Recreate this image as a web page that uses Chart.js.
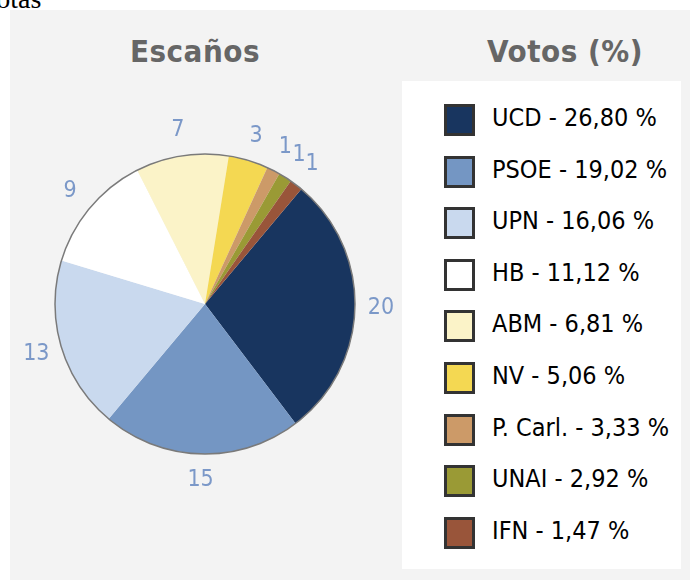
<!DOCTYPE html>
<html>
<head>
<meta charset="utf-8">
<script src="https://cdn.jsdelivr.net/npm/chart.js@4"></script>
<style>
    body { margin: 0; background: #fff; width: 690px; height: 580px; overflow: hidden; position: relative; }
    #notas { position: absolute; left: -24px; top: -17px; font: 28px "Liberation Serif", serif; color: #000; }
    #panel { position: absolute; left: 10px; top: 10px; width: 680px; height: 570px; background: #f3f3f3; }
    .titulo { position: absolute; top: 23px; font: bold 31px "DejaVu Sans Condensed", sans-serif; color: #666; letter-spacing: 0.5px; text-align: center; }
    #caja { position: absolute; left: 392px; top: 71px; width: 279px; height: 488px; background: #fff; }
    .fila { position: absolute; left: 42px; height: 32px; }
    .cuadro { position: absolute; left: 0; top: 0; width: 25px; height: 26px; border: 3px solid #333; }
    .texto { position: absolute; left: 48px; top: -1px; white-space: nowrap; font: 25px "DejaVu Sans Condensed", sans-serif; color: #000; letter-spacing: 0; }
    #pie { position: absolute; left: 0; top: 84px; }
</style>
</head>
<body>
<div id="notas">Notas</div>
<div id="panel">
    <div class="titulo" style="left:85px;width:200px;">Escaños</div>
    <div class="titulo" style="left:455px;width:200px;">Votos (%)</div>
    <canvas id="pie" width="390" height="420"></canvas>
    <div id="caja"></div>
</div>
<script>
// datos del gráfico
var partidos = ['UCD', 'PSOE', 'UPN', 'HB', 'ABM', 'NV', 'P. Carl.', 'UNAI', 'IFN'];
var escanos = [20, 15, 13, 9, 7, 3, 1, 1, 1];
var votos = [26.80, 19.02, 16.06, 11.12, 6.81, 5.06, 3.33, 2.92, 1.47];
var colores = ['#18355f', '#7496c3', '#c9d9ee', '#ffffff', '#fbf3c8', '#f4d852', '#cc9a68', '#9a9a35', '#99553a'];

// leyenda con los votos
var caja = document.getElementById('caja');
for (var i = 0; i < partidos.length; i++) {
    var fila = document.createElement('div');
    fila.className = 'fila';
    fila.style.top = (23 + i * 51.6) + 'px';
    fila.innerHTML = '<div class="cuadro" style="background:' + colores[i] + '"></div>' +
        '<div class="texto">' + partidos[i] + ' - ' + votos[i].toFixed(2).replace('.', ',') + ' %</div>';
    caja.appendChild(fila);
}

// etiquetas de escaños fuera de la tarta + borde exterior
var etiquetas = {
    id: 'etiquetas',
    afterDatasetsDraw: function (chart) {
        var ctx = chart.ctx;
        var meta = chart.getDatasetMeta(0);
        var arc0 = meta.data[0];
        ctx.save();
        ctx.beginPath();
        ctx.arc(arc0.x, arc0.y, arc0.outerRadius, 0, Math.PI * 2);
        ctx.strokeStyle = '#7a7a7a';
        ctx.lineWidth = 1.5;
        ctx.stroke();
        ctx.font = '23px "DejaVu Sans Condensed", sans-serif';
        ctx.fillStyle = '#7b98c8';
        ctx.textAlign = 'center';
        ctx.textBaseline = 'middle';
        meta.data.forEach(function (arc, i) {
            var a = (arc.startAngle + arc.endAngle) / 2;
            var r = arc.outerRadius + 26;
            ctx.fillText(String(escanos[i]), arc.x + Math.cos(a) * r, arc.y + Math.sin(a) * r);
        });
        ctx.restore();
    }
};

var ctx = document.getElementById('pie').getContext('2d');
var pieChart = new Chart(ctx, {
    type: 'pie',
    data: {
        labels: partidos,
        datasets: [{
            data: escanos,
            backgroundColor: colores,
            borderWidth: 0
        }]
    },
    options: {
        responsive: false,
        animation: false,
        rotation: 40,
        layout: { padding: { left: 45, right: 45, top: 60, bottom: 60 } },
        plugins: {
            legend: { display: false },
            tooltip: { enabled: false }
        }
    },
    plugins: [etiquetas]
});
</script>
</body>
</html>
